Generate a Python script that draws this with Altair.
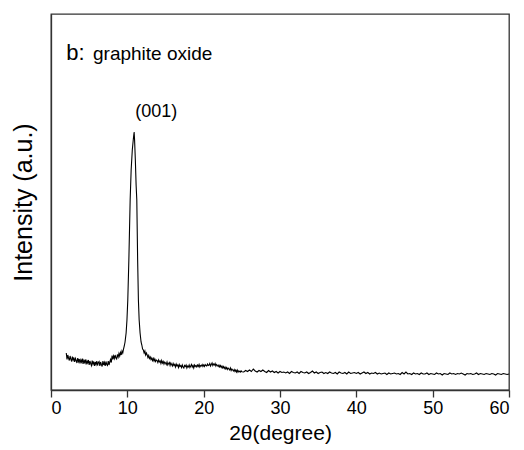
import altair as alt
import pandas as pd

# ---- data (2theta in degrees, intensity in arbitrary counts) ----
two_theta_a = [2.0, 2.1, 2.2, 2.3, 2.4, 2.5, 2.6, 2.7, 2.8, 2.9,
               3.0, 3.1, 3.2, 3.3, 3.4, 3.5, 3.6, 3.7, 3.8, 3.9,
               4.0, 4.1, 4.2, 4.3, 4.4, 4.5, 4.6, 4.7, 4.8, 4.9,
               5.0, 5.1, 5.2, 5.3, 5.4, 5.5, 5.6, 5.7, 5.8, 5.9,
               6.0, 6.1, 6.2, 6.3, 6.4, 6.5, 6.6, 6.7, 6.8, 6.9,
               7.0, 7.1, 7.2, 7.3, 7.4, 7.5, 7.6, 7.7, 7.8, 7.9,
               8.0, 8.1, 8.2, 8.3, 8.4, 8.5, 8.6, 8.7, 8.8, 8.9,
               9.0, 9.1, 9.2, 9.3, 9.4, 9.5]
intensity_a = [370, 305, 350, 320, 295, 340, 310, 285, 335, 300,
               325, 280, 315, 295, 270, 320, 285, 310, 265, 300,
               280, 315, 260, 295, 275, 305, 255, 290, 270, 300,
               250, 290, 265, 245, 295, 260, 285, 240, 280, 255,
               290, 245, 275, 285, 240, 280, 255, 235, 290, 250,
               275, 240, 285, 255, 245, 290, 250, 280, 305, 275,
               345, 305, 340, 315, 350, 320, 310, 355, 330, 365,
               340, 375, 350, 390, 370, 410]

two_theta_peak = [9.6, 9.7, 9.84, 9.95, 10.06, 10.2, 10.37, 10.5, 10.65, 10.8, 10.89,
                  10.95, 11.05, 11.15, 11.24, 11.35, 11.45, 11.55, 11.67, 11.8, 11.9,
                  12.0, 12.1, 12.2, 12.3, 12.4, 12.5]
intensity_peak = [440, 480, 570, 700, 900, 1300, 1900, 2200, 2400, 2520, 2580,
                  2500, 2300, 2050, 1900, 1300, 900, 700, 570, 480, 450,
                  410, 400, 370, 390, 350, 370]

two_theta_c = [12.6, 12.7, 12.8, 12.9,
               13.0, 13.1, 13.2, 13.3, 13.4, 13.5, 13.6, 13.7, 13.8, 13.9,
               14.0, 14.1, 14.2, 14.3, 14.4, 14.5, 14.6, 14.7, 14.8, 14.9,
               15.0, 15.1, 15.2, 15.3, 15.4, 15.5, 15.6, 15.7, 15.8, 15.9,
               16.0, 16.1, 16.2, 16.3, 16.4, 16.5, 16.6, 16.7, 16.8, 16.9,
               17.0, 17.1, 17.2, 17.3, 17.4, 17.5, 17.6, 17.7, 17.8, 17.9,
               18.0, 18.1, 18.2, 18.3, 18.4, 18.5, 18.6, 18.7, 18.8, 18.9,
               19.0, 19.1, 19.2, 19.3, 19.4, 19.5, 19.6, 19.7, 19.8, 19.9,
               20.0, 20.1, 20.2, 20.3, 20.4, 20.5, 20.6, 20.7, 20.8, 20.9,
               21.0, 21.1, 21.2, 21.3, 21.4, 21.5, 21.6, 21.7, 21.8, 21.9,
               22.0, 22.1, 22.2, 22.3, 22.4, 22.5, 22.6, 22.7, 22.8, 22.9,
               23.0, 23.1, 23.2, 23.3, 23.4, 23.5, 23.6, 23.7, 23.8, 23.9,
               24.0, 24.1, 24.2, 24.3, 24.4, 24.5, 24.6, 24.7, 24.8, 24.9,
               25.0]
intensity_c = [350, 325, 345, 315,
               330, 305, 320, 295, 315, 290, 310, 285, 300, 295,
               275, 300, 280, 290, 265, 295, 270, 285, 260, 280,
               270, 255, 280, 250, 265, 275, 245, 270, 255, 240,
               265, 245, 255, 230, 260, 240, 250, 225, 255, 235,
               245, 225, 250, 230, 220, 245, 235, 250, 220, 240,
               230, 250, 225, 240, 255, 230, 245, 220, 250, 235,
               245, 230, 250, 235, 255, 230, 245, 240, 255, 235,
               250, 235, 255, 245, 240, 260, 245, 250, 265, 240,
               255, 270, 245, 260, 250, 265, 240, 255, 245, 235,
               250, 230, 245, 225, 240, 220, 235, 215, 230, 210,
               225, 205, 220, 210, 200, 220, 195, 210, 200, 190,
               205, 185, 200, 180, 200, 178, 192, 185, 178, 192,
               182]

two_theta_d = [25.25, 25.5, 25.75,
               26.0, 26.25, 26.5, 26.75, 27.0, 27.25, 27.5, 27.75,
               28.0, 28.25, 28.5, 28.75, 29.0, 29.25, 29.5, 29.75,
               30.0, 30.25, 30.5, 30.75, 31.0, 31.25, 31.5, 31.75,
               32.0, 32.25, 32.5, 32.75, 33.0, 33.25, 33.5, 33.75,
               34.0, 34.25, 34.5, 34.75, 35.0, 35.25, 35.5, 35.75,
               36.0, 36.25, 36.5, 36.75, 37.0, 37.25, 37.5, 37.75,
               38.0, 38.25, 38.5, 38.75, 39.0, 39.25, 39.5, 39.75,
               40.0, 40.25, 40.5, 40.75, 41.0, 41.25, 41.5, 41.75,
               42.0, 42.25, 42.5, 42.75, 43.0, 43.25, 43.5, 43.75,
               44.0, 44.25, 44.5, 44.75, 45.0, 45.25, 45.5, 45.75,
               46.0, 46.25, 46.5, 46.75, 47.0, 47.25, 47.5, 47.75,
               48.0, 48.25, 48.5, 48.75, 49.0, 49.25, 49.5, 49.75,
               50.0, 50.25, 50.5, 50.75, 51.0, 51.25, 51.5, 51.75,
               52.0, 52.25, 52.5, 52.75, 53.0, 53.25, 53.5, 53.75,
               54.0, 54.25, 54.5, 54.75, 55.0, 55.25, 55.5, 55.75,
               56.0, 56.25, 56.5, 56.75, 57.0, 57.25, 57.5, 57.75,
               58.0, 58.25, 58.5, 58.75, 59.0, 59.25, 59.5, 59.75,
               60.0]
intensity_d = [180, 195, 185,
               200, 185, 210, 190, 180, 195, 185, 200,
               185, 175, 195, 180, 190, 175, 185, 170,
               185, 175, 180, 170, 180, 165, 185, 175,
               170, 180, 165, 185, 175, 170, 180, 165,
               175, 190, 170, 180, 165, 175, 180, 165,
               175, 165, 180, 170, 165, 175, 160, 180,
               170, 165, 175, 160, 180, 165, 170, 175,
               165, 175, 160, 170, 180, 165, 175, 160,
               170, 165, 175, 160, 170, 160, 165, 170,
               155, 170, 160, 165, 170, 160, 165, 155,
               175, 160, 180, 160, 165, 155, 170, 160,
               165, 155, 170, 160, 160, 170, 155, 165,
               160, 155, 170, 160, 165, 150, 165, 160,
               155, 170, 160, 165, 155, 165, 160, 170,
               160, 150, 165, 160, 165, 155, 160, 170,
               155, 165, 160, 155, 165, 160, 155, 165,
               160, 150, 165, 160, 155, 165, 160, 155,
               160]

x_ticks = [0, 5, 10, 15, 20, 25, 30, 35, 40, 45, 50, 55, 60]

label_texts = ["b:", "graphite oxide", "(001)"]
label_x = [2.0, 5.5, 13.8]
label_y = [3300, 3300, 2730]

# ---- build table ----
df = pd.DataFrame({
    "two_theta": two_theta_a + two_theta_peak + two_theta_c + two_theta_d,
    "intensity": intensity_a + intensity_peak + intensity_c + intensity_d,
})
labels = pd.DataFrame({"text": label_texts, "x": label_x, "y": label_y})

FONT = "Liberation Sans"
x_scale = alt.Scale(domain=[0, 60], nice=False, zero=False)
y_scale = alt.Scale(domain=[0, 3760], nice=False)

line = alt.Chart(df).mark_line(color="black", strokeWidth=1.1).encode(
    x=alt.X("two_theta:Q", scale=x_scale,
            axis=alt.Axis(values=x_ticks, title="2θ(degree)",
                          labelExpr="datum.value % 10 === 0 ? datum.label : ''",
                          tickSize={"condition": {"test": "datum.value % 10 === 0", "value": 7}, "value": 4},
                          grid=False, labelFontSize=18, titleFontSize=21,
                          labelPadding=2, titlePadding=5, labelFont=FONT, titleFont=FONT,
                          titleFontWeight="normal", domainColor="#333", tickColor="#333",
                          labelColor="black", titleColor="black", domainWidth=1.3,
                          tickWidth=1.3)),
    y=alt.Y("intensity:Q", scale=y_scale,
            axis=alt.Axis(ticks=False, labels=False, grid=False, title="Intensity (a.u.)",
                          titleFontSize=25, titleFont=FONT, titleFontWeight="normal",
                          titlePadding=15, domainColor="#333", domainWidth=1.3,
                          titleColor="black")),
)

def text_layer(idx, size, align):
    return alt.Chart(labels.iloc[[idx]]).mark_text(
        font=FONT, fontSize=size, align=align, baseline="alphabetic", color="black"
    ).encode(
        x=alt.X("x:Q", scale=x_scale),
        y=alt.Y("y:Q", scale=y_scale),
        text="text:N",
    )

chart = alt.layer(
    line,
    text_layer(0, 22, "left"),
    text_layer(1, 19, "left"),
    text_layer(2, 18, "center"),
).properties(
    width=458, height=376,
    autosize=alt.AutoSizeParams(type="none"),
    padding={"left": 43, "top": 6, "right": 7, "bottom": 60},
).configure_view(
    stroke="#333", strokeWidth=1.3
)

chart.save("out.html", embed_options={"renderer": "svg", "actions": False})
